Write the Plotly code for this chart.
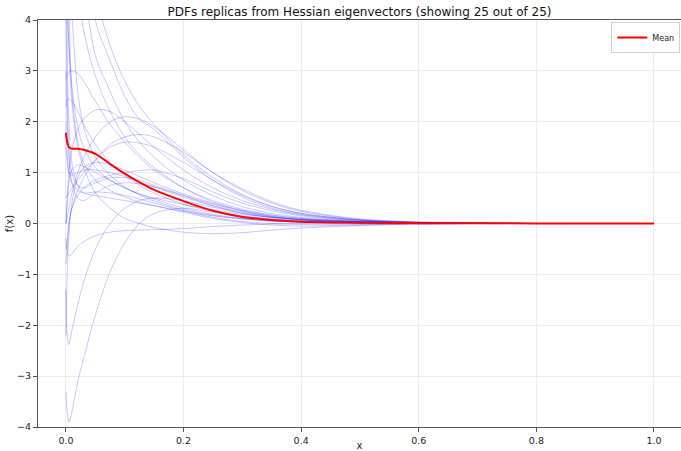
import plotly.graph_objects as go

x_grid = [0, 0.002, 0.005, 0.01, 0.02, 0.03, 0.05, 0.075, 0.1, 0.125, 0.15,
          0.2, 0.25, 0.3, 0.35, 0.4, 0.5, 0.6, 0.7, 0.8, 0.9, 1.0]

rep_d1 = [12, 10, 8, 6.5, 4.8, 3.8, 2.9, 2.2, 1.7, 1.35, 1.1, 0.7, 0.42, 0.25, 0.14, 0.08, 0.03, 0.01, 0, 0, 0, 0]
rep_d2 = [14, 12, 10, 8, 6, 4.8, 3.3, 2.6, 2.0, 1.6, 1.3, 0.85, 0.55, 0.33, 0.2, 0.12, 0.04, 0.01, 0, 0, 0, 0]
rep_d3 = [16, 14, 12, 10, 8, 6.5, 4.0, 3.2, 2.5, 2.05, 1.85, 1.3, 0.85, 0.52, 0.3, 0.18, 0.06, 0.02, 0, 0, 0, 0]
rep_d4 = [18, 16, 14, 12, 9, 7.5, 4.6, 3.5, 2.8, 2.3, 1.95, 1.35, 0.9, 0.57, 0.34, 0.2, 0.07, 0.02, 0.01, 0, 0, 0]
rep_a1 = [2.85, 2.92, 2.97, 3.0, 2.95, 2.8, 2.4, 1.95, 1.6, 1.3, 1.05, 0.7, 0.45, 0.28, 0.17, 0.1, 0.04, 0.015, 0.005, 0, 0, 0]
rep_a2 = [2.3, 2.42, 2.45, 2.4, 2.2, 1.95, 1.55, 1.2, 0.95, 0.75, 0.6, 0.38, 0.24, 0.15, 0.09, 0.05, 0.02, 0.01, 0, 0, 0, 0]
rep_a3 = [0, 0.5, 1.0, 1.45, 1.85, 2.05, 2.23, 2.2, 2.0, 1.75, 1.5, 1.05, 0.7, 0.45, 0.28, 0.17, 0.06, 0.02, 0.01, 0, 0, 0]
rep_a4 = [0, 0.1, 0.3, 0.6, 1.0, 1.3, 1.7, 2.0, 2.1, 2.05, 1.9, 1.45, 1.0, 0.65, 0.4, 0.24, 0.08, 0.03, 0.01, 0, 0, 0]
rep_a5 = [-0.5, -0.3, 0, 0.3, 0.65, 0.9, 1.25, 1.55, 1.7, 1.75, 1.7, 1.4, 1.0, 0.68, 0.43, 0.26, 0.09, 0.03, 0.01, 0, 0, 0]
rep_deep = [-3.3, -3.7, -3.9, -3.7, -3.1, -2.65, -1.8, -0.95, -0.38, 0.0, 0.2, 0.3, 0.22, 0.14, 0.08, 0.05, 0.02, 0.01, 0, 0, 0, 0]
rep_mid = [-1.3, -2.2, -2.38, -2.1, -1.6, -1.15, -0.5, 0.0, 0.3, 0.45, 0.5, 0.45, 0.32, 0.2, 0.12, 0.07, 0.02, 0.01, 0, 0, 0, 0]
rep_flat = [-0.3, -0.55, -0.64, -0.6, -0.45, -0.36, -0.24, -0.17, -0.14, -0.13, -0.12, -0.1, -0.06, -0.03, -0.01, 0, 0, 0, 0, 0, 0, 0]
rep_low = [8, 5, 3.5, 2.4, 1.5, 1.1, 0.6, 0.3, 0.1, 0.0, -0.08, -0.17, -0.2, -0.18, -0.13, -0.09, -0.04, -0.01, 0, 0, 0, 0]
rep_s1 = [4.5, 2.5, 1.5, 1.0, 0.75, 0.7, 0.8, 0.9, 0.9, 0.85, 0.75, 0.55, 0.35, 0.2, 0.12, 0.07, 0.02, 0.01, 0, 0, 0, 0]
rep_s2 = [3.0, 2.0, 1.3, 0.8, 0.5, 0.45, 0.6, 0.75, 0.8, 0.78, 0.72, 0.55, 0.38, 0.24, 0.14, 0.08, 0.03, 0.01, 0, 0, 0, 0]
rep_s3 = [0, 0.4, 0.8, 1.05, 1.15, 1.12, 1.0, 0.85, 0.7, 0.58, 0.48, 0.3, 0.18, 0.1, 0.05, 0.03, 0.01, 0, 0, 0, 0, 0]
rep_s4 = [1.5, 1.2, 1.0, 0.95, 1.0, 1.05, 1.05, 1.0, 0.92, 0.82, 0.72, 0.52, 0.35, 0.22, 0.13, 0.08, 0.03, 0.01, 0, 0, 0, 0]
rep_s5 = [-0.8, -0.5, 0, 0.3, 0.55, 0.7, 0.85, 0.95, 1.0, 1.04, 1.05, 0.88, 0.62, 0.4, 0.25, 0.15, 0.05, 0.02, 0, 0, 0, 0]
rep_s6 = [2.0, 1.4, 1.0, 0.8, 0.65, 0.6, 0.62, 0.6, 0.55, 0.48, 0.4, 0.25, 0.12, 0.04, 0.0, -0.02, -0.02, -0.01, 0, 0, 0, 0]
rep_s7 = [6, 3.5, 2.0, 1.2, 0.75, 0.6, 0.55, 0.5, 0.45, 0.4, 0.35, 0.22, 0.1, 0.02, -0.03, -0.05, -0.03, -0.01, 0, 0, 0, 0]
rep_s8 = [-2.2, -1.0, -0.2, 0.4, 0.9, 1.1, 1.2, 1.15, 1.05, 0.92, 0.8, 0.58, 0.4, 0.26, 0.16, 0.1, 0.04, 0.01, 0, 0, 0, 0]
rep_s9 = [5, 4.2, 3.5, 2.7, 1.9, 1.5, 1.1, 0.85, 0.7, 0.58, 0.5, 0.37, 0.27, 0.18, 0.12, 0.08, 0.03, 0.01, 0, 0, 0, 0]
rep_v1 = [15, 8, 4.5, 2.6, 1.6, 1.2, 0.85, 0.65, 0.52, 0.42, 0.35, 0.24, 0.15, 0.09, 0.05, 0.03, 0.01, 0, 0, 0, 0, 0]
rep_v2 = [20, 12, 7, 4.2, 2.6, 1.9, 1.3, 0.95, 0.72, 0.56, 0.44, 0.27, 0.16, 0.09, 0.05, 0.03, 0.01, 0, 0, 0, 0, 0]
rep_v3 = [0.5, 0.55, 0.6, 0.7, 0.85, 1.0, 1.25, 1.5, 1.6, 1.58, 1.5, 1.2, 0.85, 0.55, 0.33, 0.2, 0.07, 0.02, 0.01, 0, 0, 0]

replicas = [rep_d1, rep_d2, rep_d3, rep_d4, rep_a1, rep_a2, rep_a3, rep_a4, rep_a5,
            rep_deep, rep_mid, rep_flat, rep_low, rep_s1, rep_s2, rep_s3, rep_s4,
            rep_s5, rep_s6, rep_s7, rep_s8, rep_s9, rep_v1, rep_v2, rep_v3]

mean_vals = [1.78, 1.6, 1.5, 1.47, 1.47, 1.45, 1.37, 1.17, 0.98, 0.81, 0.66,
             0.44, 0.25, 0.13, 0.07, 0.035, 0.015, 0.007, 0.004, 0.002, 0.001, 0.0]

title_text = "PDFs replicas from Hessian eigenvectors (showing 25 out of 25)"
x_ticks = [0.0, 0.2, 0.4, 0.6, 0.8, 1.0]
y_ticks = [-4, -3, -2, -1, 0, 1, 2, 3, 4]

fig = go.Figure()
for rep in replicas:
    fig.add_trace(go.Scatter(
        x=x_grid, y=rep, mode="lines",
        line=dict(color="rgba(0,0,255,0.28)", width=0.8, shape="spline", smoothing=0.9),
        showlegend=False, hoverinfo="skip"))

fig.add_trace(go.Scatter(
    x=x_grid, y=mean_vals, mode="lines", name="Mean",
    line=dict(color="red", width=2, shape="spline", smoothing=1.0)))

font_family = "DejaVu Sans"
fig.update_layout(
    width=681, height=451,
    margin=dict(l=38, r=0, t=20, b=24, autoexpand=False),
    plot_bgcolor="white", paper_bgcolor="white",
    font=dict(family=font_family, size=10, color="#222"),
    title=dict(text=title_text, x=0.528, xanchor="center", y=0.973, yanchor="middle",
               font=dict(size=12, color="#111")),
    showlegend=True,
    legend=dict(x=0.999, xanchor="right", y=0.995, yanchor="top",
                bgcolor="white", bordercolor="#d0d0d0", borderwidth=1,
                font=dict(size=8), itemwidth=30,
                tracegroupgap=0),
    xaxis=dict(range=[-0.0476, 1.046], tickvals=x_ticks, tickformat=".1f",
               automargin=False,
               showgrid=True, gridcolor="#ececec", gridwidth=0.8,
               zeroline=False, showline=True, linecolor="#555", linewidth=1.2,
               mirror=True, ticks="outside", ticklen=4, tickcolor="#555",
               tickfont=dict(size=9.5),
               title=dict(text="x", standoff=3, font=dict(size=10))),
    yaxis=dict(range=[-4, 4], tickvals=y_ticks,
               automargin=False,
               showgrid=True, gridcolor="#ececec", gridwidth=0.8,
               zeroline=False, showline=True, linecolor="#555", linewidth=1.2,
               mirror=False, ticks="outside", ticklen=4, tickcolor="#555",
               tickfont=dict(size=9.5),
               title=dict(text="f(x)", standoff=1, font=dict(size=10))),
)

fig.write_html("out.html")
